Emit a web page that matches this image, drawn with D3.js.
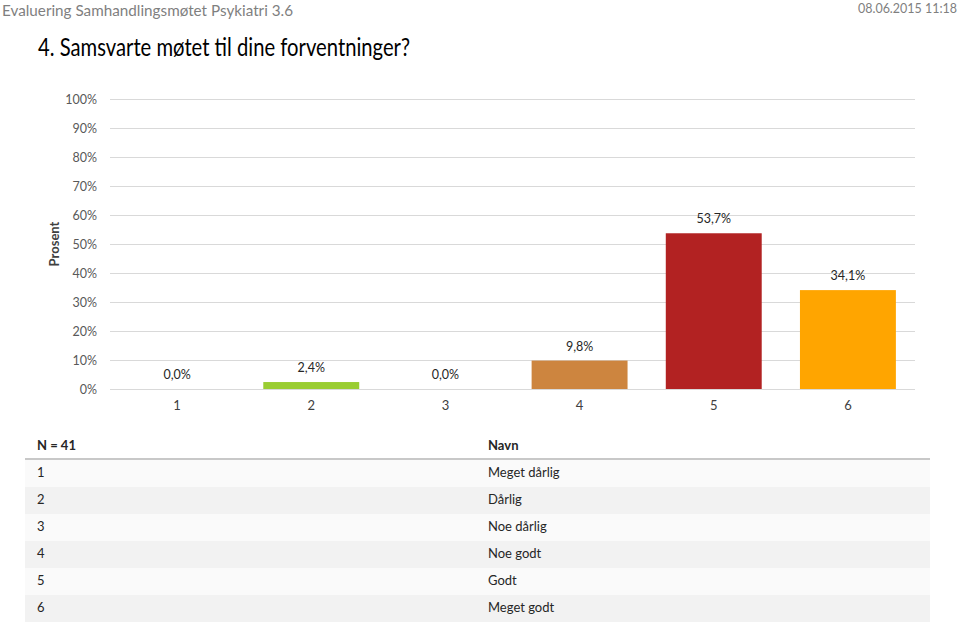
<!DOCTYPE html>
<html>
<head>
<meta charset="utf-8">
<script src="https://cdn.jsdelivr.net/npm/d3@7/dist/d3.min.js"></script>
<style>
  html, body { margin: 0; padding: 0; background: #fff; }
  svg { display: block; font-family: Lato, "Open Sans", sans-serif; }
</style>
</head>
<body>
<svg id="chart" width="960" height="622"></svg>
<script>
const docTitle = "Evaluering Samhandlingsmøtet Psykiatri 3.6";
const docDate = "08.06.2015 11:18";
const question = "4. Samsvarte møtet til dine forventninger?";
const categories = ["1", "2", "3", "4", "5", "6"];
const values = [0.0, 2.4, 0.0, 9.8, 53.7, 34.1];
const barColors = ["#4f81bd", "#9acd32", "#8064a2", "#cd853f", "#b22222", "#ffa500"];
const yTicks = [0, 10, 20, 30, 40, 50, 60, 70, 80, 90, 100];
const answerNames = ["Meget dårlig", "Dårlig", "Noe dårlig", "Noe godt", "Godt", "Meget godt"];
const nLabel = "N = 41";
const nameHeader = "Navn";
const yAxisTitle = "Prosent";

const svg = d3.select("#chart");

function fitText(sel, w) {
  const node = sel.node();
  const cur = node.getComputedTextLength();
  if (cur > 0) sel.attr("textLength", w).attr("lengthAdjust", "spacingAndGlyphs");
}

// Header texts
svg.append("text").attr("x", 2).attr("y", 16)
  .attr("font-size", 16).attr("fill", "#7f7f7f").text(docTitle)
  .call(fitText, 291);
svg.append("text").attr("x", 957).attr("y", 13).attr("text-anchor", "end")
  .attr("font-size", 13).attr("fill", "#7f7f7f").text(docDate)
  .call(fitText, 99);
svg.append("text").attr("x", 38).attr("y", 56)
  .attr("font-size", 25).attr("font-weight", 400).attr("fill", "#000").text(question)
  .call(fitText, 372);

// Scales
const x = d3.scaleBand().domain(categories).range([110, 915])
  .paddingInner(0.285).paddingOuter(0.1425);
const y = d3.scaleLinear().domain([0, 100]).range([389, 99]);

// Gridlines
svg.append("g").selectAll("line").data(yTicks).join("line")
  .attr("x1", 110).attr("x2", 915)
  .attr("y1", d => Math.round(y(d)) + 0.5).attr("y2", d => Math.round(y(d)) + 0.5)
  .attr("stroke", "#d9d9d9").attr("stroke-width", 1);

// Y axis labels
const yAxis = d3.axisLeft(y).tickValues(yTicks).tickFormat(d => d + "%").tickSize(0).tickPadding(0);
const gy = svg.append("g").attr("transform", "translate(97,0)").call(yAxis);
gy.select(".domain").remove();
gy.selectAll("text").attr("font-size", 12.5).attr("fill", "#595959")
  .attr("font-family", "Lato, 'Open Sans', sans-serif");

// X axis labels
const xAxis = d3.axisBottom(x).tickSize(0).tickPadding(0);
const gx = svg.append("g").attr("transform", "translate(0,401)").call(xAxis);
gx.select(".domain").remove();
gx.selectAll("text").attr("font-size", 13).attr("fill", "#404040")
  .attr("font-family", "Lato, 'Open Sans', sans-serif");

// Bars
svg.append("g").selectAll("rect").data(values).join("rect")
  .attr("x", (d, i) => x(categories[i]))
  .attr("width", x.bandwidth())
  .attr("y", d => y(d))
  .attr("height", d => y(0) - y(d))
  .attr("fill", (d, i) => barColors[i]);

// Value labels
const fmt = v => v.toFixed(1).replace(".", ",") + "%";
svg.append("g").selectAll("text").data(values).join("text")
  .attr("x", (d, i) => x(categories[i]) + x.bandwidth() / 2)
  .attr("y", d => y(d) - 10)
  .attr("text-anchor", "middle")
  .attr("font-size", 12.5).attr("fill", "#262626")
  .text(d => fmt(d));

// Y axis title
svg.append("text")
  .attr("transform", "translate(59,244) rotate(-90)")
  .attr("text-anchor", "middle")
  .attr("font-size", 13).attr("font-weight", "bold").attr("fill", "#404040")
  .text(yAxisTitle);

// Table
const rowH = 27;
const tableTop = 460;
const rows = svg.append("g");
rows.selectAll("rect").data(categories).join("rect")
  .attr("x", 25).attr("width", 905)
  .attr("y", (d, i) => tableTop + i * rowH).attr("height", rowH)
  .attr("fill", (d, i) => i % 2 === 0 ? "#fafafa" : "#f2f2f2");
svg.append("line").attr("x1", 25).attr("x2", 930).attr("y1", 459).attr("y2", 459)
  .attr("stroke", "#c8c8c8").attr("stroke-width", 2);
svg.append("text").attr("x", 37).attr("y", 450).attr("font-size", 13)
  .attr("font-weight", "bold").attr("fill", "#262626").text(nLabel);
svg.append("text").attr("x", 488).attr("y", 450).attr("font-size", 13)
  .attr("font-weight", "bold").attr("fill", "#262626").text(nameHeader);
rows.selectAll("text.num").data(categories).join("text").attr("class", "num")
  .attr("x", 37).attr("y", (d, i) => tableTop + i * rowH + 17)
  .attr("font-size", 13).attr("fill", "#262626").text(d => d);
rows.selectAll("text.name").data(answerNames).join("text").attr("class", "name")
  .attr("x", 488).attr("y", (d, i) => tableTop + i * rowH + 17)
  .attr("font-size", 13).attr("fill", "#262626").text(d => d);
</script>
</body>
</html>
